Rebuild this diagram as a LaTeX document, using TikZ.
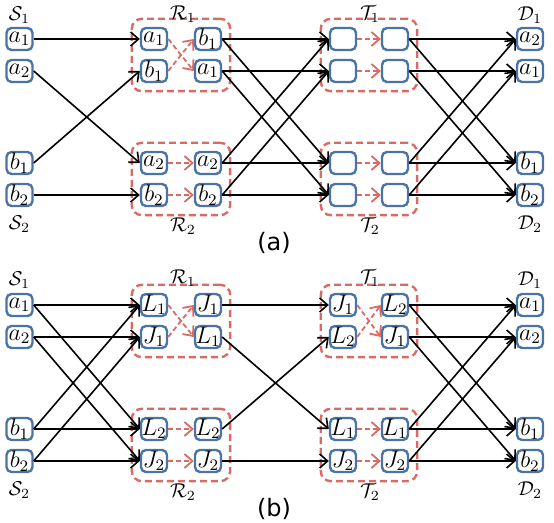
\documentclass[tikz,border=0pt]{standalone}
\usepackage{fontspec}
\usepackage{amsmath}
\newfontfamily\panelfont{DejaVu Sans}
\usetikzlibrary{arrows.meta,fit}

\definecolor{boxblue}{RGB}{74,116,168}
\definecolor{grpred}{RGB}{216,108,100}

\tikzset{
  pkt/.style={draw=boxblue, line width=1.2pt, rounded corners=2.5pt, fill=white,
    minimum width=13pt, minimum height=11pt, inner sep=0pt, font=\large},
  grp/.style={draw=grpred, line width=1.2pt, dash pattern=on 3.5pt off 2pt,
    rounded corners=5pt, inner sep=4pt},
  lab/.style={inner sep=1pt},
  link/.style={->, line width=0.8pt},
  fwd/.style={->, grpred, line width=0.9pt, dash pattern=on 2.5pt off 1.5pt},
}

\begin{document}
\begin{tikzpicture}[x=0.5pt, y=-0.5pt, >={Straight Barb[length=4pt,width=7pt]}]
        \useasboundingbox (0,0) rectangle (554,523);

        % ---------------- (a) ----------------
        % Sources
        \node[pkt] (aS1) at (19.5,39) {$a_1$};
        \node[pkt] (aS2) at (19.5,71) {$a_2$};
        \node[pkt] (aS3) at (19.5,163) {$b_1$};
        \node[pkt] (aS4) at (19.5,195) {$b_2$};
        \node[lab] (aS1lab) at (19.5,15) {$\mathcal{S}_1$};
        \node[lab] (aS2lab) at (19.5,224) {$\mathcal{S}_2$};

        % Relays R1, R2
        \node[pkt] (aRl1) at (154,39) {$a_1$};
        \node[pkt] (aRl2) at (154,71) {$b_1$};
        \node[pkt] (aRl3) at (154,163) {$a_2$};
        \node[pkt] (aRl4) at (154,195) {$b_2$};
        \node[pkt] (aRr1) at (208,39) {$b_1$};
        \node[pkt] (aRr2) at (208,71) {$a_1$};
        \node[pkt] (aRr3) at (208,163) {$a_2$};
        \node[pkt] (aRr4) at (208,195) {$b_2$};
        \node[grp, fit=(aRl1)(aRr2)] (aR1) {};
        \node[grp, fit=(aRl3)(aRr4)] (aR2) {};
        \node[lab] (aR1lab) at (183,14) {$\mathcal{R}_1$};
        \node[lab] (aR2lab) at (183,226) {$\mathcal{R}_2$};

        % Relays T1, T2
        \node[pkt] (aTl1) at (343,39) {};
        \node[pkt] (aTl2) at (343,71) {};
        \node[pkt] (aTl3) at (343,163) {};
        \node[pkt] (aTl4) at (343,195) {};
        \node[pkt] (aTr1) at (395,39) {};
        \node[pkt] (aTr2) at (395,71) {};
        \node[pkt] (aTr3) at (395,163) {};
        \node[pkt] (aTr4) at (395,195) {};
        \node[grp, fit=(aTl1)(aTr2)] (aT1) {};
        \node[grp, fit=(aTl3)(aTr4)] (aT2) {};
        \node[lab] (aT1lab) at (370,14) {$\mathcal{T}_1$};
        \node[lab] (aT2lab) at (370,226) {$\mathcal{T}_2$};

        % Destinations
        \node[pkt] (aD1) at (530,39) {$a_2$};
        \node[pkt] (aD2) at (530,71) {$a_1$};
        \node[pkt] (aD3) at (530,163) {$b_1$};
        \node[pkt] (aD4) at (530,195) {$b_2$};
        \node[lab] (aD1lab) at (530,15) {$\mathcal{D}_1$};
        \node[lab] (aD2lab) at (530,224) {$\mathcal{D}_2$};

        % Connections
        \draw[link] (aS1.east) -- (aRl1.west);
        \draw[link] (aS2.east) -- (aRl3.west);
        \draw[link] (aS3.east) -- (aRl2.west);
        \draw[link] (aS4.east) -- (aRl4.west);
        \draw[fwd] (aRl1.east) -- (aRr2.west);
        \draw[fwd] (aRl2.east) -- (aRr1.west);
        \draw[fwd] (aRl3.east) -- (aRr3.west);
        \draw[fwd] (aRl4.east) -- (aRr4.west);
        \draw[link] (aRr1.east) -- (aTl1.west);
        \draw[link] (aRr1.east) -- (aTl3.west);
        \draw[link] (aRr2.east) -- (aTl2.west);
        \draw[link] (aRr2.east) -- (aTl4.west);
        \draw[link] (aRr3.east) -- (aTl3.west);
        \draw[link] (aRr3.east) -- (aTl1.west);
        \draw[link] (aRr4.east) -- (aTl4.west);
        \draw[link] (aRr4.east) -- (aTl2.west);
        \draw[fwd] (aTl1.east) -- (aTr1.west);
        \draw[fwd] (aTl2.east) -- (aTr2.west);
        \draw[fwd] (aTl3.east) -- (aTr3.west);
        \draw[fwd] (aTl4.east) -- (aTr4.west);
        \draw[link] (aTr1.east) -- (aD1.west);
        \draw[link] (aTr1.east) -- (aD3.west);
        \draw[link] (aTr2.east) -- (aD2.west);
        \draw[link] (aTr2.east) -- (aD4.west);
        \draw[link] (aTr3.east) -- (aD3.west);
        \draw[link] (aTr3.east) -- (aD1.west);
        \draw[link] (aTr4.east) -- (aD4.west);
        \draw[link] (aTr4.east) -- (aD2.west);

        \node[font=\panelfont\large] (alab) at (274,243) {(a)};

        % ---------------- (b) ----------------
        % Sources
        \node[pkt] (bS1) at (19.5,305) {$a_1$};
        \node[pkt] (bS2) at (19.5,337) {$a_2$};
        \node[pkt] (bS3) at (19.5,429) {$b_1$};
        \node[pkt] (bS4) at (19.5,461) {$b_2$};
        \node[lab] (bS1lab) at (19.5,280) {$\mathcal{S}_1$};
        \node[lab] (bS2lab) at (19.5,490) {$\mathcal{S}_2$};

        % Relays R1, R2
        \node[pkt] (bRl1) at (154,305) {$L_1$};
        \node[pkt] (bRl2) at (154,337) {$J_1$};
        \node[pkt] (bRl3) at (154,429) {$L_2$};
        \node[pkt] (bRl4) at (154,461) {$J_2$};
        \node[pkt] (bRr1) at (208,305) {$J_1$};
        \node[pkt] (bRr2) at (208,337) {$L_1$};
        \node[pkt] (bRr3) at (208,429) {$L_2$};
        \node[pkt] (bRr4) at (208,461) {$J_2$};
        \node[grp, fit=(bRl1)(bRr2)] (bR1) {};
        \node[grp, fit=(bRl3)(bRr4)] (bR2) {};
        \node[lab] (bR1lab) at (183,278) {$\mathcal{R}_1$};
        \node[lab] (bR2lab) at (183,492) {$\mathcal{R}_2$};

        % Relays T1, T2
        \node[pkt] (bTl1) at (343,305) {$J_1$};
        \node[pkt] (bTl2) at (343,337) {$L_2$};
        \node[pkt] (bTl3) at (343,429) {$L_1$};
        \node[pkt] (bTl4) at (343,461) {$J_2$};
        \node[pkt] (bTr1) at (395,305) {$L_2$};
        \node[pkt] (bTr2) at (395,337) {$J_1$};
        \node[pkt] (bTr3) at (395,429) {$L_1$};
        \node[pkt] (bTr4) at (395,461) {$J_2$};
        \node[grp, fit=(bTl1)(bTr2)] (bT1) {};
        \node[grp, fit=(bTl3)(bTr4)] (bT2) {};
        \node[lab] (bT1lab) at (370,278) {$\mathcal{T}_1$};
        \node[lab] (bT2lab) at (370,492) {$\mathcal{T}_2$};

        % Destinations
        \node[pkt] (bD1) at (530,305) {$a_1$};
        \node[pkt] (bD2) at (530,337) {$a_2$};
        \node[pkt] (bD3) at (530,429) {$b_1$};
        \node[pkt] (bD4) at (530,461) {$b_2$};
        \node[lab] (bD1lab) at (530,280) {$\mathcal{D}_1$};
        \node[lab] (bD2lab) at (530,490) {$\mathcal{D}_2$};

        % Connections
        \draw[link] (bS1.east) -- (bRl1.west);
        \draw[link] (bS1.east) -- (bRl3.west);
        \draw[link] (bS2.east) -- (bRl2.west);
        \draw[link] (bS2.east) -- (bRl4.west);
        \draw[link] (bS3.east) -- (bRl3.west);
        \draw[link] (bS3.east) -- (bRl1.west);
        \draw[link] (bS4.east) -- (bRl4.west);
        \draw[link] (bS4.east) -- (bRl2.west);
        \draw[fwd] (bRl1.east) -- (bRr2.west);
        \draw[fwd] (bRl2.east) -- (bRr1.west);
        \draw[fwd] (bRl3.east) -- (bRr3.west);
        \draw[fwd] (bRl4.east) -- (bRr4.west);
        \draw[link] (bRr1.east) -- (bTl1.west);
        \draw[link] (bRr2.east) -- (bTl3.west);
        \draw[link] (bRr3.east) -- (bTl2.west);
        \draw[link] (bRr4.east) -- (bTl4.west);
        \draw[fwd] (bTl1.east) -- (bTr2.west);
        \draw[fwd] (bTl2.east) -- (bTr1.west);
        \draw[fwd] (bTl3.east) -- (bTr3.west);
        \draw[fwd] (bTl4.east) -- (bTr4.west);
        \draw[link] (bTr1.east) -- (bD1.west);
        \draw[link] (bTr1.east) -- (bD3.west);
        \draw[link] (bTr2.east) -- (bD2.west);
        \draw[link] (bTr2.east) -- (bD4.west);
        \draw[link] (bTr3.east) -- (bD3.west);
        \draw[link] (bTr3.east) -- (bD1.west);
        \draw[link] (bTr4.east) -- (bD4.west);
        \draw[link] (bTr4.east) -- (bD2.west);

        \node[font=\panelfont\large] (blab) at (274,509) {(b)};
    \end{tikzpicture}
\end{document}
